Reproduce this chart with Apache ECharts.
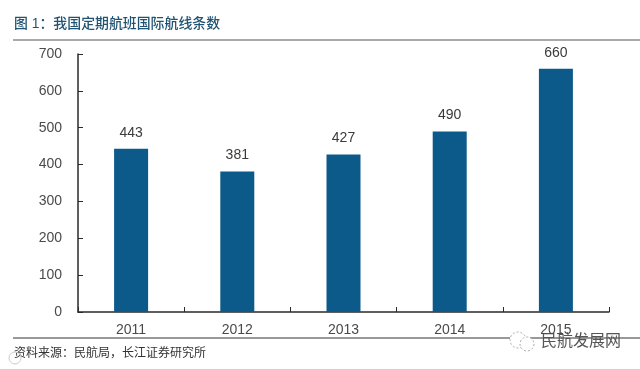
<!DOCTYPE html>
<html><head><meta charset="utf-8">
<style>html,body{margin:0;padding:0;background:#fff}#c{width:640px;height:369px}</style>
<script src="https://cdn.jsdelivr.net/npm/echarts@6/dist/echarts.min.js"></script>
</head><body><div id="c"></div>
<script>
var years = ['2011','2012','2013','2014','2015'];
var routes = [443,381,427,490,660];
var titleText = '图 1\uFF1A我国定期航班国际航线条数';
var sourceText = '资料来源\uFF1A民航局\uFF0C长江证券研究所';
var markText = '民航发展网';
var font = '"Liberation Sans","Noto Sans CJK SC",sans-serif';
var chart = echarts.init(document.getElementById('c'), null, {renderer:'canvas'});
chart.setOption({
  animation:false,
  backgroundColor:'#fff',
  grid:{left:78,right:31,top:54,bottom:57},
  xAxis:{type:'category',data:years,
    axisLine:{lineStyle:{color:'#2a2a2a',width:1.5}},
    axisTick:{show:true,inside:true,length:5,alignWithLabel:false,lineStyle:{color:'#2a2a2a',width:1}},
    axisLabel:{color:'#4a4a4a',fontSize:14,fontFamily:font,margin:11}},
  yAxis:{type:'value',min:0,max:700,interval:100,
    axisLine:{show:true,lineStyle:{color:'#2a2a2a',width:1.5}},
    axisTick:{show:true,inside:true,length:5,lineStyle:{color:'#2a2a2a',width:1}},
    axisLabel:{color:'#4a4a4a',fontSize:14,fontFamily:font,margin:16},
    splitLine:{show:false}},
  series:[{type:'bar',data:routes,barWidth:34,itemStyle:{color:'#0b5a8a'},
    label:{show:true,position:'top',distance:9,color:'#3a3a3a',fontSize:14,fontFamily:font}}],
  graphic:[
    {type:'text',left:14,top:17,style:{text:titleText,fill:'#1f5273',font:'500 13.9px '+font}},
    {type:'line',shape:{x1:13,y1:40,x2:640,y2:40},style:{stroke:'#555',lineWidth:1.2}},
    {type:'line',shape:{x1:13,y1:338,x2:510,y2:338},style:{stroke:'#333',lineWidth:1}},
    {type:'line',shape:{x1:530,y1:338,x2:640,y2:338},style:{stroke:'#333',lineWidth:1}},
    {type:'text',left:14,top:348,style:{text:sourceText,fill:'#333',font:'12px '+font}},
    {type:'circle',shape:{cx:15,cy:358,r:6},style:{fill:'none',stroke:'#ccc',lineWidth:1}},
    {type:'circle',shape:{cx:518,cy:340,r:8},style:{fill:'rgba(255,255,255,0.9)',stroke:'#aaa',lineWidth:1,lineDash:[2,2]}},
    {type:'circle',shape:{cx:527,cy:344,r:7},style:{fill:'rgba(255,255,255,0.9)',stroke:'#aaa',lineWidth:1,lineDash:[2,2]}},
    {type:'text',left:541,top:334,style:{text:markText,fill:'#555',font:'16px '+font}}
  ]
});
</script></body></html>
